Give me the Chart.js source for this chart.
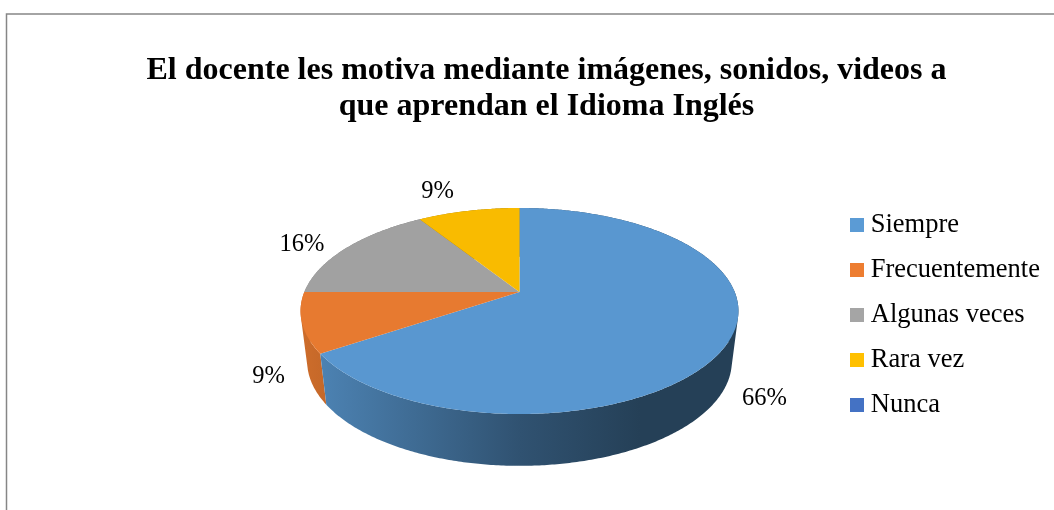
<!DOCTYPE html>
<html><head><meta charset="utf-8">
<style>html,body{margin:0;padding:0;background:#fff;overflow:hidden}canvas{display:block}</style>
<script src="https://cdn.jsdelivr.net/npm/chart.js@4/dist/chart.umd.js"></script>
</head><body>
<canvas id="c" width="1054" height="510"></canvas>
<script>
const categories = ["Siempre", "Frecuentemente", "Algunas veces", "Rara vez", "Nunca"];
const values = [65.6, 9.4, 16, 9, 0];
const sliceColors = ["#5B9BD5", "#ED7D31", "#A5A5A5", "#FFC000", "#4472C4"];
const titleLines = ["El docente les motiva mediante imágenes, sonidos, videos a", "que aprendan el Idioma Inglés"];
const labelPositions = [[764.5, 399], [268.5, 377], [302, 245], [437.5, 192], null];

const serif = "'Liberation Serif', 'Times New Roman', serif";
const tilt = 0.1845;
const topFace = {cx: 519.5, cy: 292, a: 215.2, b: 99.5};
const bottomFace = {cx: 519.5, cy: 342, a: 208.7, b: 101};
const wallStops = [[300, 0.87], [520, 0.53], [640, 0.41]];
const topShade = 0.975;

function project(face, angle) {
  const x = Math.cos(angle), y = Math.sin(angle), w = 1 - tilt * y;
  return [face.cx + face.a * x / w, face.cy + face.b * y / w];
}
function arcPoints(face, start, end) {
  const steps = Math.max(2, Math.ceil((end - start) / 0.01)), pts = [];
  for (let i = 0; i <= steps; i++) pts.push(project(face, start + (end - start) * i / steps));
  return pts;
}
function rgb(hex) { return [1, 3, 5].map(i => parseInt(hex.slice(i, i + 2), 16)); }
function shaded(hex, f) { return `rgb(${rgb(hex).map(v => Math.round(v * f)).join(",")})`; }
function wallFill(ctx, hex) {
  const first = wallStops[0][0], last = wallStops[wallStops.length - 1][0];
  const g = ctx.createLinearGradient(first, 0, last, 0);
  wallStops.forEach(([x, f]) => g.addColorStop((x - first) / (last - first), shaded(hex, f)));
  return g;
}

const pie3d = {
  id: "pie3d",
  beforeDraw(chart) {
    const ctx = chart.ctx;
    ctx.save();
    ctx.strokeStyle = "#868686";
    ctx.lineWidth = 1.5;
    ctx.beginPath();
    ctx.moveTo(6.5, 510); ctx.lineTo(6.5, 14); ctx.lineTo(1054, 14);
    ctx.stroke();
    ctx.restore();
    const t = chart.titleBlock;
    t.left = 39; t.right = 1054; t.top = 53;
    const l = chart.legend;
    l.left = 838; l.top = 193.25;
    const els = chart.getDatasetMeta(0).data;
    els.forEach(el => {
      el.draw = function (c) {
        const p = this.getProps(["startAngle", "endAngle"]);
        if (p.endAngle - p.startAngle <= 0) return;
        c.save();
        c.fillStyle = shaded(this.options.backgroundColor.length === 7 ? this.options.backgroundColor : "#000000", topShade);
        c.beginPath();
        c.moveTo(topFace.cx, topFace.cy);
        arcPoints(topFace, p.startAngle, p.endAngle).forEach(q => c.lineTo(q[0], q[1]));
        c.closePath();
        c.fill();
        c.restore();
      };
    });
  },
  beforeDatasetsDraw(chart) {
    const ctx = chart.ctx, els = chart.getDatasetMeta(0).data;
    for (let i = els.length - 1; i >= 0; i--) {
      const p = els[i].getProps(["startAngle", "endAngle"]);
      if (p.endAngle - p.startAngle <= 0) continue;
      const top = arcPoints(topFace, p.startAngle, p.endAngle);
      const bottom = arcPoints(bottomFace, p.startAngle, p.endAngle);
      ctx.save();
      ctx.fillStyle = wallFill(ctx, sliceColors[i]);
      ctx.beginPath();
      for (let n = 0; n < top.length - 1; n++) {
        let quad = [top[n], top[n + 1], bottom[n + 1], bottom[n]];
        let area = 0;
        quad.forEach((q, j) => { const r = quad[(j + 1) % 4]; area += q[0] * r[1] - r[0] * q[1]; });
        if (area < 0) quad = quad.reverse();
        quad.forEach((q, j) => j ? ctx.lineTo(q[0], q[1]) : ctx.moveTo(q[0], q[1]));
        ctx.closePath();
      }
      ctx.fill();
      ctx.restore();
    }
  },
  afterDatasetsDraw(chart) {
    const ctx = chart.ctx;
    ctx.save();
    ctx.font = "24.5px " + serif;
    ctx.fillStyle = "#000";
    ctx.textAlign = "center";
    ctx.textBaseline = "middle";
    values.forEach((v, i) => {
      if (labelPositions[i]) ctx.fillText(Math.round(v) + "%", labelPositions[i][0], labelPositions[i][1]);
    });
    ctx.restore();
  }
};

new Chart(document.getElementById("c"), {
  type: "pie",
  data: {labels: categories, datasets: [{data: values, backgroundColor: sliceColors, borderWidth: 0}]},
  plugins: [pie3d],
  options: {
    responsive: false,
    animation: false,
    plugins: {
      tooltip: {enabled: false},
      title: {
        display: true,
        text: titleLines,
        color: "#000",
        padding: 0,
        font: {family: serif, size: 32, weight: "bold", lineHeight: 1.125}
      },
      legend: {
        position: "right",
        align: "start",
        labels: {
          color: "#000",
          font: {family: serif, size: 26.5},
          usePointStyle: true,
          pointStyle: "rect",
          boxWidth: 1,
          boxHeight: 14,
          padding: 18.5
        }
      }
    }
  }
});
</script>
</body></html>
